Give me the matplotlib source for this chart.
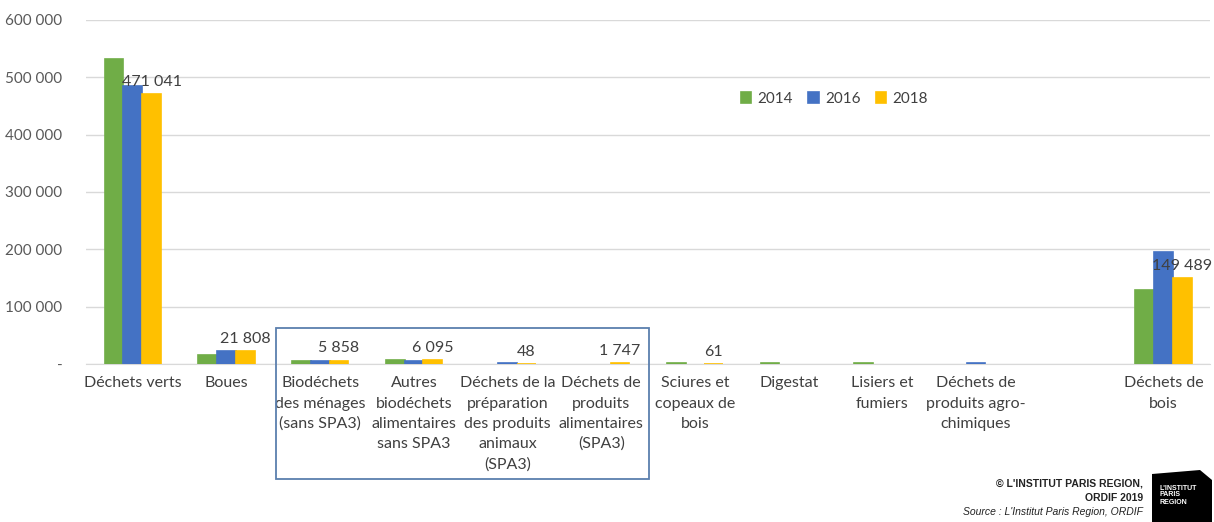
import numpy as np
import matplotlib
matplotlib.use("Agg")
import matplotlib.pyplot as plt
from matplotlib.patches import Rectangle, Polygon

plt.rcParams['font.family'] = ['Lato', 'DejaVu Sans']

categories = ["Déchets verts", "Boues", "Biodéchets\ndes ménages\n(sans SPA3)",
              "Autres\nbiodéchets\nalimentaires\nsans SPA3",
              "Déchets de la\npréparation\ndes produits\nanimaux\n(SPA3)",
              "Déchets de\nproduits\nalimentaires\n(SPA3)",
              "Sciures et\ncopeaux de\nbois", "Digestat", "Lisiers et\nfumiers",
              "Déchets de\nproduits agro-\nchimiques", "", "Déchets de\nbois"]
nan = np.nan
v2014 = [532000, 16000, 6000, 6500, nan, nan, 2000, 2000, 2000, nan, nan, 129000]
v2016 = [484000, 22500, 6000, 5500, 1500, nan, nan, nan, nan, 2000, nan, 195000]
v2018 = [471041, 21808, 5858, 6095, 48, 1747, 61, nan, nan, nan, nan, 149489]
labels2018 = ["471 041", "21 808", "5 858", "6 095", "48", "1 747", "61", "", "", "", "", "149 489"]
years = ["2014", "2016", "2018"]
colors = ["#70AD47", "#4472C4", "#FFC000"]

fig = plt.figure(figsize=(12.14, 5.22), dpi=100)
ax = fig.add_axes([0.0708, 0.3027, 0.9262, 0.6593])

x = np.arange(len(categories))
w = 0.2
for i, (vals, c, yr) in enumerate(zip([v2014, v2016, v2018], colors, years)):
    ax.bar(x + (i - 1) * w, vals, w, color=c, edgecolor=c, linewidth=1.2, label=yr, zorder=3)

for xi, v, lab in zip(x, v2018, labels2018):
    if lab:
        ax.text(xi + w, v + 9000, lab, ha='center', va='bottom', fontsize=11.5, color='#404040', zorder=4)

ax.set_xlim(-0.5, len(categories) - 0.5)
ax.set_ylim(0, 600000)
ax.set_yticks(range(0, 600001, 100000))
ax.set_yticklabels(["-"] + ["%d 000" % (t // 1000) for t in range(100000, 600001, 100000)])
ax.set_xticks(x)
ax.set_xticklabels(categories, fontsize=11.5, color='#404040', linespacing=1.55)
ax.tick_params(axis='y', labelsize=11, labelcolor='#595959', length=0, pad=17)
ax.tick_params(axis='x', length=0, pad=9)
ax.grid(axis='y', color='#d9d9d9', linewidth=1, zorder=0)
for s in ['top', 'right', 'left']:
    ax.spines[s].set_visible(False)
ax.spines['bottom'].set_color('#d9d9d9')

ax.legend(loc='center left', bbox_to_anchor=(0.57, 0.77), ncol=3, frameon=False,
          fontsize=11, handlelength=0.7, handleheight=0.7, columnspacing=1.0, handletextpad=0.4,
          labelcolor='#404040')

W, H = 1214, 522
fig.patches.append(Rectangle((276 / W, 1 - 479 / H), (649 - 276) / W, (479 - 328) / H,
                             transform=fig.transFigure, fill=False, edgecolor='#5B7FAE', linewidth=1.3))

fam = ['Liberation Sans Narrow', 'Liberation Sans', 'DejaVu Sans']
fig.text(1143 / W, 1 - 484 / H, "© L'INSTITUT PARIS REGION,", ha='right', va='center',
         fontsize=7.5, fontweight='bold', family=fam, color='#222222')
fig.text(1143 / W, 1 - 498 / H, "ORDIF 2019", ha='right', va='center',
         fontsize=7.5, fontweight='bold', family=fam, color='#222222')
fig.text(1143 / W, 1 - 512 / H, "Source : L'Institut Paris Region, ORDIF", ha='right', va='center',
         fontsize=7.5, style='italic', family=fam, color='#222222')

pts = [(1152, 474), (1200, 470), (1212, 480), (1212, 522), (1152, 522)]
fig.patches.append(Polygon([(px / W, 1 - py / H) for px, py in pts], closed=True,
                           transform=fig.transFigure, facecolor='black', edgecolor='none'))
fig.text(1160 / W, 1 - 495 / H, "L'INSTITUT\nPARIS\nREGION", ha='left', va='center',
         fontsize=5, fontweight='bold', family=fam, color='white', linespacing=1.0)

fig.savefig("out.png", dpi=100)
